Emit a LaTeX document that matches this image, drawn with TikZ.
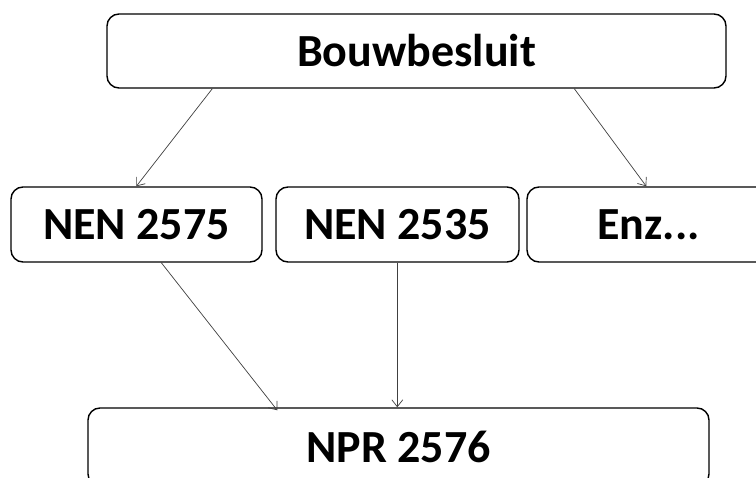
\documentclass[tikz,border=0pt]{standalone}
\usepackage{fontspec}
\setmainfont{Carlito}
\usetikzlibrary{arrows.meta,calc}
\tikzset{
  box/.style={draw=black, line width=1.4pt, rounded corners=12pt, inner sep=0pt,
    font=\fontsize{46pt}{50pt}\selectfont\bfseries, text=black},
  link/.style={draw=black!75, line width=0.7pt, -{Straight Barb[length=7pt,width=11pt]}}
}
\begin{document}
\begin{tikzpicture}[x=1pt,y=-1pt]
\path[use as bounding box, clip] (0,0) rectangle (756,478);
\fill[white] (0,0) rectangle (756,478);
\node[box, minimum width=619pt, minimum height=74pt] (top) at (416.5,51) {Bouwbesluit};
\node[box, minimum width=251pt, minimum height=75pt] (n1) at (136.5,224.5) {NEN 2575};
\node[box, minimum width=243pt, minimum height=75pt] (n2) at (397.5,224.5) {NEN 2535};
\node[box, minimum width=243pt, minimum height=75pt] (n3) at (648.5,224.5) {Enz...};
\node[box, minimum width=621pt, minimum height=78pt] (bot) at (398.5,447) {NPR 2576};
\draw[link] ($(top.south west)+(106,0)$) -- ($(n1.north west)+(126,0)$);
\draw[link] ($(top.south west)+(468,0)$) -- ($(n3.north west)+(120,0)$);
\draw[link] ($(n1.south west)+(151,0)$) -- ($(bot.north west)+(190,3)$);
\draw[link] ($(n2.south west)+(122,0)$) -- ($(bot.north west)+(310,0)$);
\end{tikzpicture}
\end{document}
